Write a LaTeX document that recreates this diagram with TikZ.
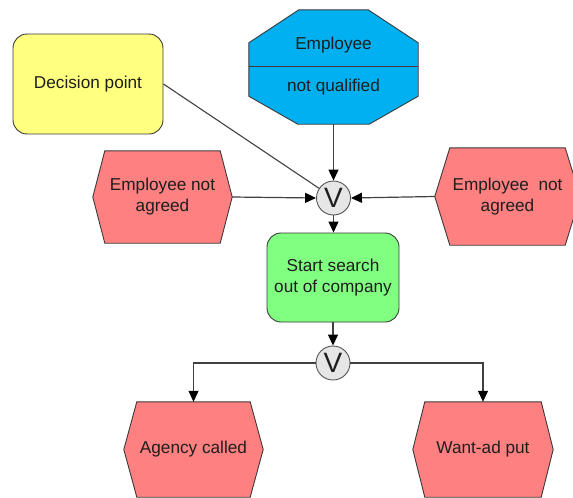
\documentclass[tikz,border=0pt]{standalone}
\usepackage{fontspec}
\setmainfont{Liberation Sans}
\usetikzlibrary{arrows.meta,backgrounds}
\definecolor{evred}{HTML}{FF8080}
\definecolor{fngreen}{HTML}{80FF80}
\definecolor{decyel}{HTML}{FFFF80}
\definecolor{orgblue}{HTML}{00B0F0}
\definecolor{orgray}{HTML}{E6E6E6}
\definecolor{edge}{HTML}{3A3A3A}
\definecolor{conn}{HTML}{404040}
\definecolor{txt}{HTML}{1E1E1E}
\newcommand\hexev[2]{%
  \filldraw[evred, draw=edge, line width=0.9pt]
    (#1.west) -- ([xshift=#2]#1.north west) -- ([xshift=-#2]#1.north east)
    -- (#1.east) -- ([xshift=-#2]#1.south east) -- ([xshift=#2]#1.south west) -- cycle;}
\begin{document}
\begin{tikzpicture}[x=1pt,y=-1pt,
  lbl/.style={font=\fontsize{17.2}{21}\selectfont, text=txt, align=center, inner sep=0pt},
  rbox/.style={lbl, draw=edge, line width=0.9pt, rounded corners=14pt},
  evt/.style={lbl},
  orc/.style={circle, draw=conn!90, line width=0.9pt, fill=orgray, minimum size=34pt, inner sep=0pt,
              font=\fontsize{28}{28}\selectfont, text=txt},
  arr/.style={draw=conn, line width=1.2pt, -{Triangle[length=11pt,width=10pt,color=black]}},
  ln/.style={draw=conn, line width=1.1pt}]
\clip (0,0) rectangle (573,498);
% nodes
\node[rbox, fill=decyel, minimum width=150pt, minimum height=100pt] (dec) at (88,84) {Decision point};
\node[minimum width=169pt, minimum height=114pt, inner sep=0pt] (emp) at (333.5,67) {};
\node[lbl] (empA) at (333.5,45) {Employee};
\node[lbl] (empB) at (333.5,87) {not qualified};
\node[orc] (orA) at (333.5,198) {V};
\node[evt, minimum width=139pt, minimum height=92pt] (ev1) at (162.5,197) {Employee not\\agreed};
\node[evt, minimum width=145pt, minimum height=97pt] (ev2) at (507.5,196.5) {Employee\ \ not\\agreed};
\node[rbox, fill=fngreen, minimum width=132pt, minimum height=89pt] (fn) at (333,277.5) {Start search\\out of company};
\node[orc] (orB) at (333,363) {V};
\node[evt, minimum width=139pt, minimum height=95pt] (ev3) at (193.5,449.5) {Agency called};
\node[evt, minimum width=140pt, minimum height=95pt] (ev4) at (483,449.5) {Want-ad put};
% shapes behind text
\begin{pgfonlayer}{background}
  \filldraw[orgblue, draw=edge, line width=0.9pt]
    ([xshift=50pt]emp.north west) -- ([xshift=-50pt]emp.north east)
    -- ([yshift=-33pt]emp.north east) -- ([yshift=28pt]emp.south east)
    -- ([xshift=-49pt]emp.south east) -- ([xshift=49pt]emp.south west)
    -- ([yshift=28pt]emp.south west) -- ([yshift=-33pt]emp.north west) -- cycle;
  \draw[edge, line width=0.9pt] ([yshift=1pt]emp.west) -- ([yshift=1pt]emp.east);
  \hexev{ev1}{12pt}
  \hexev{ev2}{15pt}
  \hexev{ev3}{13pt}
  \hexev{ev4}{12pt}
\end{pgfonlayer}
% connectors
\draw[ln] (dec.east) -- (orA);
\draw[arr] (emp.south -| orA) -- (orA.north);
\draw[arr] (ev1.east) -- (orA.west);
\draw[arr] (ev2.west) -- (orA.east);
\draw[arr] (orA.south) -- (fn.north -| orA);
\draw[arr] (fn.south) -- (orB.north);
\draw[arr] (orB.west) -| (ev3.north);
\draw[arr] (orB.east) -| (ev4.north);
\end{tikzpicture}
\end{document}
